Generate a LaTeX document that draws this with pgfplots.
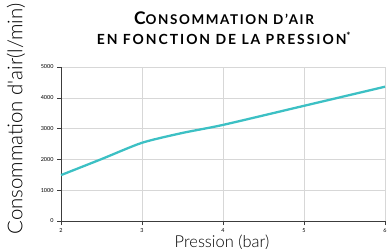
\documentclass[border=0pt]{standalone}
\usepackage{pgfplots}
\pgfplotsset{compat=1.18}
\usepackage{fontspec}
\setmainfont{Lato}
\newfontfamily\lightfont{Lato Light}
\definecolor{teal1}{RGB}{60,192,196}
\definecolor{gridc}{RGB}{215,215,215}
\definecolor{axc}{RGB}{60,60,60}
\begin{document}
\begin{tikzpicture}
\useasboundingbox (-61bp,-28bp) rectangle (326bp,221bp);
\begin{axis}[
  scale only axis,
  width=324bp, height=154bp,
  xmin=2, xmax=6, ymin=0, ymax=5000,
  xtick={2,3,4,5,6}, ytick={0,1000,2000,3000,4000,5000},
  axis lines=left,
  axis line style={-, draw=axc, line width=0.6pt},
  tick style={draw=axc, line width=0.5pt},
  tick align=outside,
  major tick length=4bp,
  grid=major,
  major grid style={draw=gridc, line width=0.5pt},
  ticklabel style={font=\fontsize{5.5}{6}\selectfont, text=black},
  /pgf/number format/assume math mode=true,
  /pgf/number format/1000 sep={},
  clip=false,
]
\addplot[teal1, line width=2.3pt, smooth, tension=0.4] coordinates {
  (2,1490) (2.5,2010) (3,2540) (3.5,2860) (4,3120) (5,3740) (6,4360)
};
\end{axis}
\node[rotate=90, font=\lightfont\fontsize{20.5}{24}\selectfont] at (-45bp,102bp) {Consommation d'air(l/min)};
\node[font=\lightfont\fontsize{16.5}{18}\selectfont, anchor=base] at (161bp,-26bp) {Pression (bar)};
\node[anchor=base, font=\bfseries\addfontfeatures{LetterSpace=12}] at (163bp,196bp) {{\fontsize{17.5}{20}\selectfont C}{\fontsize{13.5}{16}\selectfont ONSOMMATION D'AIR}};
\node[anchor=base, font=\bfseries\addfontfeatures{LetterSpace=14}] at (163bp,176bp) {\fontsize{14}{16}\selectfont EN FONCTION DE LA PRESSION\textsuperscript{*}};
\end{tikzpicture}
\end{document}
